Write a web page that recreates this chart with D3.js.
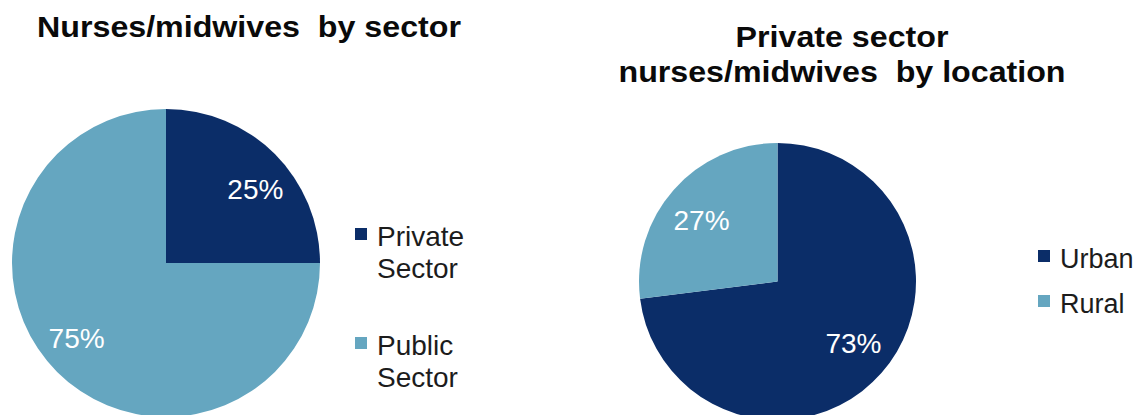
<!DOCTYPE html>
<html>
<head>
<meta charset="utf-8">
<script src="https://cdn.jsdelivr.net/npm/d3@7"></script>
<style>
  html, body { margin: 0; padding: 0; background: #ffffff; }
  svg { display: block; font-family: "Liberation Sans", Arial, Helvetica, sans-serif; }
  text { white-space: pre; }
</style>
</head>
<body>
<svg id="chart" width="1138" height="415"></svg>
<script>
// Nurses/midwives: share by sector, and private-sector share by location
const sectorCategories = ["Private Sector", "Public Sector"];
const sectorValues = [25, 75];
const sectorLegendLines = [["Private", "Sector"], ["Public", "Sector"]];

const locationCategories = ["Urban", "Rural"];
const locationValues = [73, 27];
const locationLegendLines = [["Urban"], ["Rural"]];

const sectorTitle = ["Nurses/midwives  by sector"];
const locationTitle = ["Private sector", "nurses/midwives  by location"];

const DARK = "#0b2d68";
const LIGHT = "#65a6c0";

const svg = d3.select("#chart");

function drawPie(opts) {
  const color = d3.scaleOrdinal().domain(opts.categories).range([DARK, LIGHT]);
  const data = opts.categories.map((c, i) => ({ cat: c, value: opts.values[i] }));
  const pie = d3.pie().sort(null).value(d => d.value);
  const arcs = pie(data);
  const arc = d3.arc().innerRadius(0).outerRadius(opts.r);
  const labelArc = d3.arc().innerRadius(opts.r * opts.labelFrac).outerRadius(opts.r * opts.labelFrac);

  const g = svg.append("g").attr("transform", `translate(${opts.cx},${opts.cy})`);
  g.selectAll("path.slice")
    .data(arcs)
    .join("path")
    .attr("class", "slice")
    .attr("d", arc)
    .attr("fill", d => color(d.data.cat));

  // percentage labels: placed on the slice centroid, nudged wider than tall
  g.selectAll("text.pct")
    .data(arcs)
    .join("text")
    .attr("class", "pct")
    .attr("transform", d => {
      const [x, y] = labelArc.centroid(d);
      return `translate(${x * opts.labelSX},${y * opts.labelSY})`;
    })
    .attr("text-anchor", "middle")
    .attr("dy", "0.36em")
    .attr("fill", "#ffffff")
    .attr("font-size", 28)
    .text(d => d.data.value + "%");

  // title lines, bold and slightly widened
  const t = svg.append("g").attr("transform", `translate(${opts.titleX},0)`);
  opts.title.forEach((line, i) => {
    t.append("text")
      .attr("transform", `translate(0,${opts.titleY + i * 35}) scale(1.11,1)`)
      .attr("text-anchor", "middle")
      .attr("font-weight", "bold")
      .attr("font-size", 29)
      .attr("fill", "#0a0a0a")
      .text(line);
  });

  // legend
  const lg = svg.append("g").attr("transform", `translate(${opts.legX},${opts.legY})`);
  opts.categories.forEach((c, i) => {
    const item = lg.append("g").attr("transform", `translate(0,${i * opts.legGap})`);
    item.append("rect")
      .attr("x", 0).attr("y", -18)
      .attr("width", 12).attr("height", 12)
      .attr("fill", color(c));
    opts.legendLines[i].forEach((ln, j) => {
      item.append("text")
        .attr("x", 22)
        .attr("y", j * 32)
        .attr("font-size", opts.legFont)
        .attr("fill", "#1c1c1c")
        .text(ln);
    });
  });
}

drawPie({
  categories: sectorCategories, values: sectorValues, legendLines: sectorLegendLines,
  cx: 166, cy: 263, r: 154, labelFrac: 0.76, labelSX: 1.08, labelSY: 0.9,
  title: sectorTitle, titleX: 249, titleY: 37,
  legX: 355, legY: 246, legGap: 109, legFont: 28
});

drawPie({
  categories: locationCategories, values: locationValues, legendLines: locationLegendLines,
  cx: 777.5, cy: 281.5, r: 138.5, labelFrac: 0.71, labelSX: 1.03, labelSY: 0.94,
  title: locationTitle, titleX: 842, titleY: 47,
  legX: 1038, legY: 268, legGap: 45, legFont: 27
});
</script>
</body>
</html>
